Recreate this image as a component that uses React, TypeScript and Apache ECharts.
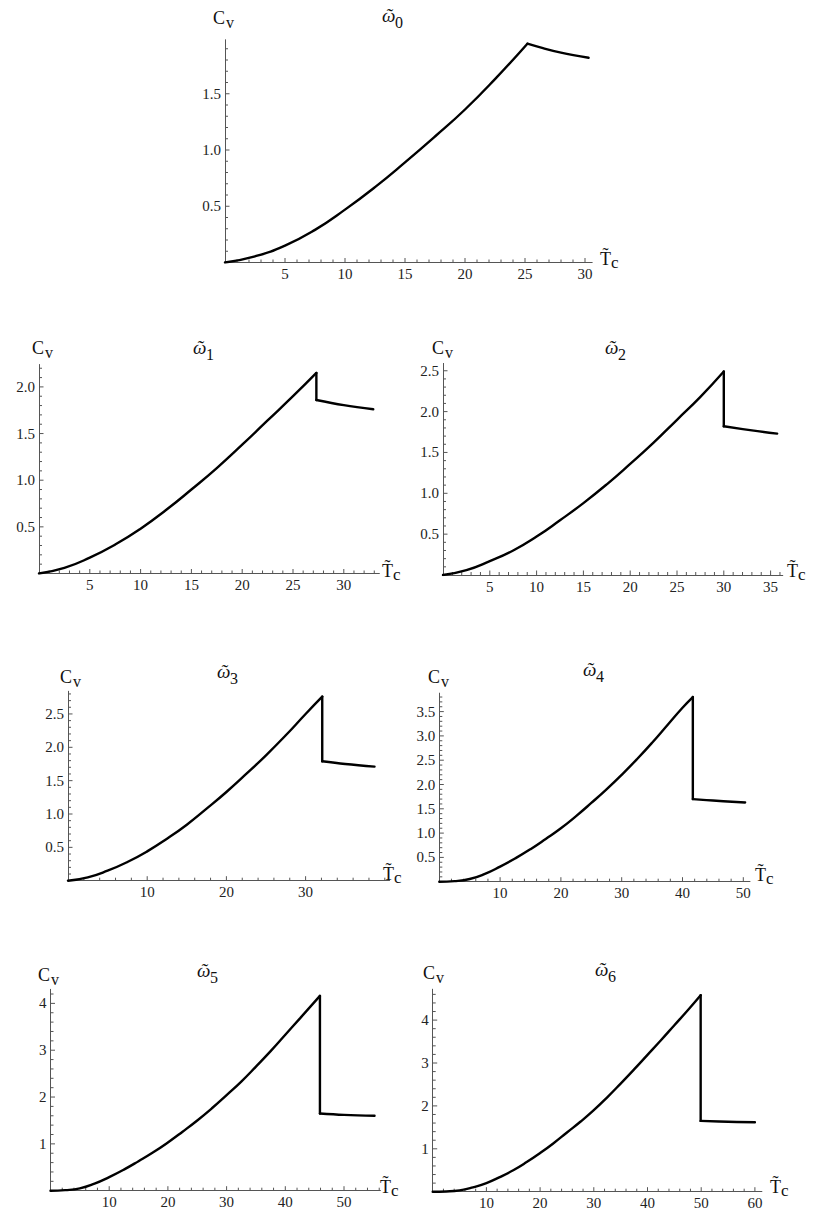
import React, { useEffect, useRef } from "react";
import * as echarts from "echarts";

// ---------- data ----------
const rise0 = [[0, 0], [2.5, 0.055], [5, 0.15], [7.5, 0.29], [10, 0.47], [12.5, 0.67], [15, 0.89], [17.5, 1.12], [20, 1.36], [22.5, 1.63], [25.2, 1.945]];
const drop0: number[][] = [];
const tail0 = [[25.2, 1.945], [26.5, 1.905], [28, 1.865], [30.3, 1.82]];

const rise1 = [[0, 0], [2.5, 0.06], [5, 0.17], [7.5, 0.31], [10, 0.48], [12.5, 0.68], [15, 0.9], [17.5, 1.13], [20, 1.38], [22.5, 1.64], [25, 1.9], [27.3, 2.15]];
const drop1 = [[27.3, 2.15], [27.3, 1.86]];
const tail1 = [[27.3, 1.86], [30, 1.805], [32.9, 1.76]];

const rise2 = [[0, 0], [2.5, 0.06], [5, 0.17], [7.5, 0.3], [10, 0.47], [12.5, 0.67], [15, 0.88], [17.5, 1.11], [20, 1.36], [22.5, 1.62], [25, 1.9], [27.5, 2.18], [30, 2.49]];
const drop2 = [[30, 2.49], [30, 1.82]];
const tail2 = [[30, 1.82], [33, 1.77], [35.7, 1.73]];

const rise3 = [[0, 0], [2.5, 0.05], [5, 0.15], [7.5, 0.28], [10, 0.44], [12.5, 0.63], [15, 0.84], [17.5, 1.08], [20, 1.33], [22.5, 1.6], [25, 1.88], [27.5, 2.18], [30, 2.5], [32.1, 2.76]];
const drop3 = [[32.1, 2.76], [32.1, 1.79]];
const tail3 = [[32.1, 1.79], [35, 1.75], [38.7, 1.71]];

const rise4 = [[0, 0], [2.5, 0.012], [5, 0.055], [7.5, 0.16], [10, 0.31], [12.5, 0.48], [15, 0.67], [17.5, 0.88], [20, 1.1], [22.5, 1.35], [25, 1.62], [27.5, 1.9], [30, 2.2], [32.5, 2.52], [35, 2.86], [37.5, 3.22], [40, 3.58], [41.7, 3.8]];
const drop4 = [[41.7, 3.8], [41.7, 1.7]];
const tail4 = [[41.7, 1.7], [45, 1.67], [50.3, 1.63]];

const rise5 = [[0, 0], [2.5, 0.012], [5, 0.05], [7.5, 0.15], [10, 0.29], [12.5, 0.45], [15, 0.63], [17.5, 0.82], [20, 1.03], [22.5, 1.26], [25, 1.5], [27.5, 1.76], [30, 2.04], [32.5, 2.33], [35, 2.65], [37.5, 2.98], [40, 3.33], [42.5, 3.68], [45.9, 4.16]];
const drop5 = [[45.9, 4.16], [45.9, 1.65]];
const tail5 = [[45.9, 1.65], [50, 1.62], [55.2, 1.6]];

const rise6 = [[0, 0], [2.5, 0.006], [5, 0.03], [7.5, 0.1], [10, 0.2], [12.5, 0.34], [15, 0.5], [17.5, 0.69], [20, 0.9], [22.5, 1.13], [25, 1.38], [27.5, 1.63], [30, 1.9], [32.5, 2.2], [35, 2.52], [37.5, 2.85], [40, 3.19], [42.5, 3.53], [45, 3.88], [47.5, 4.23], [49.9, 4.58]];
const drop6 = [[49.9, 4.58], [49.9, 1.65]];
const tail6 = [[49.9, 1.65], [55, 1.63], [60, 1.62]];

// axis extents
const xMaxes = [30.6, 33.5, 36.3, 40.6, 51.1, 56.2, 61.3];
const yMaxes = [1.98, 2.24, 2.59, 2.84, 3.88, 4.3, 4.72];

// tick labels
const xLabels0 = [5, 10, 15, 20, 25, 30];
const xLabels1 = [5, 10, 15, 20, 25, 30];
const xLabels2 = [5, 10, 15, 20, 25, 30, 35];
const xLabels3 = [10, 20, 30];
const xLabels4 = [10, 20, 30, 40, 50];
const xLabels5 = [10, 20, 30, 40, 50];
const xLabels6 = [10, 20, 30, 40, 50, 60];
const yLabels0 = [0.5, 1.0, 1.5];
const yLabels1 = [0.5, 1.0, 1.5, 2.0];
const yLabels2 = [0.5, 1.0, 1.5, 2.0, 2.5];
const yLabels3 = [0.5, 1.0, 1.5, 2.0, 2.5];
const yLabels4 = [0.5, 1.0, 1.5, 2.0, 2.5, 3.0, 3.5];
const yLabels5 = [1, 2, 3, 4];
const yLabels6 = [1, 2, 3, 4];
const xMinorSteps = [1, 1, 1, 2, 2, 2, 2];
const yMinorSteps = [0.1, 0.1, 0.1, 0.1, 0.1, 0.2, 0.2];
const yDecimals = [1, 1, 1, 1, 1, 0, 0];
const subscripts = ["0", "1", "2", "3", "4", "5", "6"];

const rises = [rise0, rise1, rise2, rise3, rise4, rise5, rise6];
const drops = [drop0, drop1, drop2, drop3, drop4, drop5, drop6];
const tails = [tail0, tail1, tail2, tail3, tail4, tail5, tail6];
const xLabelSets = [xLabels0, xLabels1, xLabels2, xLabels3, xLabels4, xLabels5, xLabels6];
const yLabelSets = [yLabels0, yLabels1, yLabels2, yLabels3, yLabels4, yLabels5, yLabels6];

// ---------- layout (page pixels) ----------
const layout = [
  { x0: 225, y0: 262.5, sx: 12.0, sy: 112.5, cv: [213, 18], ti: [382, 18], tc: [600, 259] },
  { x0: 39, y0: 573.5, sx: 10.16, sy: 93.3, cv: [32, 348], ti: [193, 350], tc: [382, 571] },
  { x0: 443, y0: 575, sx: 9.36, sy: 81.7, cv: [432, 348], ti: [605, 350], tc: [787, 571] },
  { x0: 68, y0: 880.7, sx: 7.92, sy: 66.7, cv: [60, 677], ti: [217, 674], tc: [383, 874] },
  { x0: 439.3, y0: 881.7, sx: 6.08, sy: 48.6, cv: [428, 677], ti: [583, 672], tc: [755, 875] },
  { x0: 50.5, y0: 1190.7, sx: 5.87, sy: 46.83, cv: [38, 975], ti: [197, 973], tc: [380, 1187] },
  { x0: 432.7, y0: 1191.7, sx: 5.37, sy: 42.9, cv: [423, 973], ti: [595, 972], tc: [770, 1187] },
];

const FONT = "Liberation Serif";
const AXIS_COLOR = "#555";
const LABEL_COLOR = "#222";
const TEXT_COLOR = "#111";
const LABEL_SIZE = 15;

// kind: 0 = x major (labelled), 1 = x minor, 2 = y major (labelled), 3 = y minor
function tickList(max: number, step: number, majors: number[], axisKind: number): number[][] {
  const out: number[][] = majors.map((m) => [m, axisKind]);
  const n = Math.floor(max / step + 1e-6);
  for (let i = 1; i <= n; i++) {
    const v = Math.round(i * step * 1000) / 1000;
    if (!majors.some((m) => Math.abs(m - v) < 1e-6)) out.push([v, axisKind + 1]);
  }
  return out;
}

function makeTickRenderer(dec: number) {
  return function renderTick(params: any, api: any) {
    const v = api.value(0);
    const kind = api.value(1);
    const stroke = { stroke: AXIS_COLOR, lineWidth: 1 };
    if (kind < 2) {
      const p = api.coord([v, 0]);
      const len = kind === 0 ? 4.5 : 3;
      const line = { type: "line", shape: { x1: p[0], y1: p[1], x2: p[0], y2: p[1] - len }, style: stroke };
      if (kind === 1) return line;
      return {
        type: "group",
        children: [
          line,
          {
            type: "text", x: p[0], y: p[1] + 4,
            style: { text: String(v), fontFamily: FONT, fontSize: LABEL_SIZE, fill: LABEL_COLOR, align: "center", verticalAlign: "top" },
          },
        ],
      };
    }
    const p = api.coord([0, v]);
    const len = kind === 2 ? 4.5 : 3;
    const line = { type: "line", shape: { x1: p[0], y1: p[1], x2: p[0] + len, y2: p[1] }, style: stroke };
    if (kind === 3) return line;
    return {
      type: "group",
      children: [
        line,
        {
          type: "text", x: p[0] - 4, y: p[1],
          style: { text: v.toFixed(dec), fontFamily: FONT, fontSize: LABEL_SIZE, fill: LABEL_COLOR, align: "right", verticalAlign: "middle" },
        },
      ],
    };
  };
}

function buildOption() {
  const grid: any[] = [];
  const xAxis: any[] = [];
  const yAxis: any[] = [];
  const series: any[] = [];
  const graphic: any[] = [];

  layout.forEach((L, i) => {
    const xMax = xMaxes[i];
    const yMax = yMaxes[i];
    const w = xMax * L.sx;
    const h = yMax * L.sy;
    grid.push({ left: L.x0, top: L.y0 - h, width: w, height: h });

    xAxis.push({
      gridIndex: i, type: "value", min: 0, max: xMax, position: "bottom",
      axisLine: { onZero: false, lineStyle: { color: AXIS_COLOR, width: 1 } },
      splitLine: { show: false },
      axisTick: { show: false },
      axisLabel: { show: false },
    });
    yAxis.push({
      gridIndex: i, type: "value", min: 0, max: yMax, position: "left",
      axisLine: { show: true, onZero: false, lineStyle: { color: AXIS_COLOR, width: 1 } },
      splitLine: { show: false },
      axisTick: { show: false },
      axisLabel: { show: false },
    });

    const ticks = tickList(xMax, xMinorSteps[i], xLabelSets[i], 0).concat(tickList(yMax, yMinorSteps[i], yLabelSets[i], 2));
    series.push({
      type: "custom", xAxisIndex: i, yAxisIndex: i, data: ticks, renderItem: makeTickRenderer(yDecimals[i]),
      clip: false, silent: true,
    });

    const lineStyle = { color: "#000", width: 2.4, cap: "round", join: "round" };
    series.push({ type: "line", xAxisIndex: i, yAxisIndex: i, data: rises[i], smooth: 0.5, symbol: "none", lineStyle, silent: true });
    if (drops[i].length) {
      series.push({ type: "line", xAxisIndex: i, yAxisIndex: i, data: drops[i], smooth: false, symbol: "none", lineStyle, silent: true });
    }
    series.push({ type: "line", xAxisIndex: i, yAxisIndex: i, data: tails[i], smooth: 0.4, symbol: "none", lineStyle, silent: true });

    // Cv
    graphic.push({
      type: "text", x: L.cv[0], y: L.cv[1],
      style: { text: "C", fontFamily: FONT, fontSize: 18, fill: TEXT_COLOR, align: "left", verticalAlign: "middle" },
    });
    graphic.push({
      type: "text", x: L.cv[0] + 13, y: L.cv[1] + 4,
      style: { text: "v", fontFamily: FONT, fontSize: 16, fill: TEXT_COLOR, align: "left", verticalAlign: "middle" },
    });
    // title: omega with tilde (perispomeni) and subscript
    graphic.push({
      type: "text", x: L.ti[0], y: L.ti[1] - 3,
      style: { text: "\u1FF6", fontFamily: FONT, fontStyle: "italic", fontSize: 19, fill: TEXT_COLOR, align: "left", verticalAlign: "middle" },
    });
    graphic.push({
      type: "text", x: L.ti[0] + 13, y: L.ti[1] + 4,
      style: { text: subscripts[i], fontFamily: FONT, fontSize: 16, fill: TEXT_COLOR, align: "left", verticalAlign: "middle" },
    });
    // T-tilde with subscript c
    graphic.push({
      type: "text", x: L.tc[0], y: L.tc[1],
      style: { text: "T\u0303", fontFamily: FONT, fontSize: 18, fill: TEXT_COLOR, align: "left", verticalAlign: "middle" },
    });
    graphic.push({
      type: "text", x: L.tc[0] + 11, y: L.tc[1] + 3,
      style: { text: "c", fontFamily: FONT, fontSize: 17, fill: TEXT_COLOR, align: "left", verticalAlign: "middle" },
    });
  });

  return {
    animation: false,
    backgroundColor: "#fff",
    textStyle: { fontFamily: FONT },
    grid, xAxis, yAxis, series, graphic,
  };
}

export default function App() {
  const ref = useRef<HTMLDivElement>(null);
  useEffect(() => {
    if (!ref.current) return;
    const chart = echarts.init(ref.current, null, { renderer: "svg" });
    chart.setOption(buildOption() as any);
    return () => chart.dispose();
  }, []);
  return (
    <div
      ref={ref}
      style={{ position: "absolute", left: 0, top: 0, width: 816, height: 1214, background: "#fff" }}
    />
  );
}
